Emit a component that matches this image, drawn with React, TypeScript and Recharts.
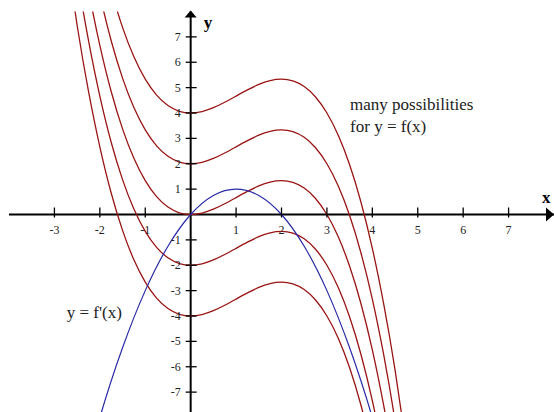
import React from 'react';
import { LineChart, Line, XAxis, YAxis, ReferenceLine, ReferenceDot } from 'recharts';

// Sample positions for the antiderivative family y = f(x)
const fxX = [-2.75, -2.5, -2.25, -2, -1.75, -1.5, -1.25, -1, -0.75, -0.5, -0.25, 0, 0.25, 0.5, 0.75, 1, 1.25, 1.5, 1.75, 2, 2.25, 2.5, 2.75, 3, 3.25, 3.5, 3.75, 4, 4.25, 4.5, 4.75];
// Shape of the curve passing through the origin
const fxShape = [14.49, 11.458, 8.859, 6.667, 4.849, 3.375, 2.214, 1.333, 0.703, 0.292, 0.068, 0, 0.057, 0.208, 0.422, 0.667, 0.911, 1.125, 1.276, 1.333, 1.266, 1.042, 0.63, 0, -0.88, -2.042, -3.516, -5.333, -7.526, -10.125, -13.16];
// Vertical shifts (y-intercepts) of each member of the family
const fxShifts = [4, 2, 0, -2, -4];

// The derivative y = f'(x)
const fpX = [-2.5, -2, -1.5, -1, -0.5, 0, 0.5, 1, 1.5, 2, 2.5, 3, 3.5, 4, 4.5];
const fpY = [-11.25, -8, -5.25, -3, -1.25, 0, 0.75, 1, 0.75, 0, -1.25, -3, -5.25, -8, -11.25];

const xTicks = [-3, -2, -1, 1, 2, 3, 4, 5, 6, 7];
const yTicks = [-7, -6, -5, -4, -3, -2, -1, 1, 2, 3, 4, 5, 6, 7];

const SERIF = "'Liberation Serif', 'DejaVu Serif', serif";
const RED = '#9a1414';
const BLUE = '#2a2aa8';
const TEXT = '#222';

const familyData = fxShifts.map((c) => fxX.map((x, i) => ({ x, y: fxShape[i] + c })));
const derivData = fpX.map((x, i) => ({ x, y: fpY[i] }));

const serifStyle = (size: number, bold = false): React.CSSProperties => ({
  fontFamily: SERIF,
  fontSize: size,
  fontWeight: bold ? 'bold' : 'normal',
});

const XTickMark = (p: any) => (
  <g>
    <line x1={p.cx} y1={p.cy - 7} x2={p.cx} y2={p.cy + 3} stroke="#000" strokeWidth={1.3} />
    <text x={p.cx} y={p.cy + 19} textAnchor="middle" style={serifStyle(12)} fill={TEXT}>
      {p.label}
    </text>
  </g>
);

const YTickMark = (p: any) => (
  <g>
    <line x1={p.cx - 5} y1={p.cy} x2={p.cx + 6} y2={p.cy} stroke="#000" strokeWidth={1.3} />
    <text x={p.cx - 10} y={p.cy + 4} textAnchor="end" style={serifStyle(12)} fill={TEXT}>
      {p.label}
    </text>
  </g>
);

const XArrow = (p: any) => (
  <g>
    <path d={`M${p.cx},${p.cy} L${p.cx - 8},${p.cy - 7} L${p.cx - 8},${p.cy + 7} Z`} fill="#000" />
    <text x={p.cx - 12} y={p.cy - 12} style={serifStyle(17, true)} fill="#000">x</text>
  </g>
);

const YArrow = (p: any) => (
  <g>
    <path d={`M${p.cx},${p.cy - 1} L${p.cx - 6},${p.cy + 6} L${p.cx + 6},${p.cy + 6} Z`} fill="#000" />
    <text x={p.cx + 13} y={p.cy + 16} style={serifStyle(17, true)} fill="#000">y</text>
  </g>
);

const Note = (p: any) => (
  <text x={p.cx} y={p.cy} style={serifStyle(17)} fill={TEXT}>{p.text}</text>
);

export default function App() {
  return (
    <div style={{ position: 'absolute', left: 0, top: 0, background: '#fff' }}>
      <LineChart width={554} height={420} margin={{ top: 11.5, right: 0, bottom: 2.5, left: 9 }}>
        <XAxis type="number" dataKey="x" domain={[-4, 8]} hide allowDataOverflow />
        <YAxis type="number" dataKey="y" domain={[-8, 8]} hide allowDataOverflow />

        <ReferenceLine y={0} stroke="#000" strokeWidth={2} />
        <ReferenceLine x={0} stroke="#000" strokeWidth={2} />

        {familyData.map((d, i) => (
          <Line
            key={`f${i}`}
            data={d}
            dataKey="y"
            type="natural"
            stroke={RED}
            strokeWidth={1.3}
            dot={false}
            activeDot={false}
            isAnimationActive={false}
          />
        ))}
        <Line
          data={derivData}
          dataKey="y"
          type="natural"
          stroke={BLUE}
          strokeWidth={1.2}
          dot={false}
          activeDot={false}
          isAnimationActive={false}
        />

        {xTicks.map((t) => (
          <ReferenceDot key={`xt${t}`} x={t} y={0} ifOverflow="visible"
            shape={(p: any) => <XTickMark {...p} label={String(t)} />} />
        ))}
        {yTicks.map((t) => (
          <ReferenceDot key={`yt${t}`} x={0} y={t} ifOverflow="visible"
            shape={(p: any) => <YTickMark {...p} label={String(t)} />} />
        ))}

        <ReferenceDot x={8} y={0} ifOverflow="visible" shape={(p: any) => <XArrow {...p} />} />
        <ReferenceDot x={0} y={8} ifOverflow="visible" shape={(p: any) => <YArrow {...p} />} />

        <ReferenceDot x={3.51} y={4.1} ifOverflow="visible" shape={(p: any) => <Note {...p} text="many possibilities" />} />
        <ReferenceDot x={3.51} y={3.27} ifOverflow="visible" shape={(p: any) => <Note {...p} text="for y = f(x)" />} />
        <ReferenceDot x={-2.73} y={-4.06} ifOverflow="visible" shape={(p: any) => <Note {...p} text="y = f'(x)" />} />
      </LineChart>
    </div>
  );
}
